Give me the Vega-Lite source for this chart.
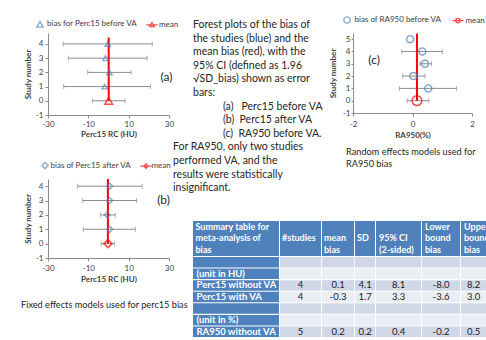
{
  "$schema": "https://vega.github.io/schema/vega-lite/v6.json",
  "background": "white",
  "padding": {"left": 21, "top": 16, "right": 0, "bottom": 0},
  "bounds": "flush",
  "align": "each",
  "spacing": 145,
  "config": {
    "font": "Lato",
    "locale": {"number": {"decimal": ".", "thousands": ",", "grouping": [3], "currency": ["$", ""], "minus": "-"}},
    "view": {"stroke": null},
    "axis": {"grid": false, "domainColor": "#8c8c8c", "tickColor": "#8c8c8c", "labelFont": "Lato", "labelFontSize": 8, "labelColor": "#404040", "titleFont": "Lato", "titleFontSize": 8, "titleFontWeight": "bold", "titleColor": "#404040", "tickSize": 3, "labelFlush": false, "labelOverlap": false},
    "axisY": {"labelOverlap": false},
    "axisQuantitative": {"labelOverlap": false},
    "legend": {"labelFont": "Lato", "labelFontSize": 8, "labelColor": "#404040"},
    "title": {"font": "Lato", "fontSize": 9.2, "fontWeight": "normal", "color": "#262626"}
  },
  "datasets": {
    "pa": [
      {"study": 4, "est": -0.4, "lo": -22.5, "hi": 21.7, "series": "bias for Perc15 before VA"},
      {"study": 3, "est": -1.5, "lo": -19.9, "hi": 19.1, "series": "bias for Perc15 before VA"},
      {"study": 2, "est": 0.45, "lo": -10.3, "hi": 11.2, "series": "bias for Perc15 before VA"},
      {"study": 1, "est": -1.9, "lo": -22.2, "hi": 20.8, "series": "bias for Perc15 before VA"},
      {"study": 0, "est": 0.1, "lo": -8.0, "hi": 8.2, "series": "mean"}
    ],
    "pb": [
      {"study": 4, "est": 0.6, "lo": -15.3, "hi": 16.7, "series": "bias of Perc15 after VA"},
      {"study": 3, "est": 0.6, "lo": -12.8, "hi": 13.9, "series": "bias of Perc15 after VA"},
      {"study": 2, "est": -0.6, "lo": -3.9, "hi": 3.4, "series": "bias of Perc15 after VA"},
      {"study": 1, "est": 0.6, "lo": -12.5, "hi": 13.3, "series": "bias of Perc15 after VA"},
      {"study": 0, "est": -0.3, "lo": -3.6, "hi": 3.0, "series": "mean"}
    ],
    "pc": [
      {"study": 5, "est": -0.08, "lo": null, "hi": null, "series": "bias of RA950 before VA"},
      {"study": 4, "est": 0.33, "lo": -0.36, "hi": 1.0, "series": "bias of RA950 before VA"},
      {"study": 3, "est": 0.42, "lo": 0.25, "hi": 0.64, "series": "bias of RA950 before VA"},
      {"study": 2, "est": 0.03, "lo": -0.33, "hi": 0.42, "series": "bias of RA950 before VA"},
      {"study": 1, "est": 0.53, "lo": -0.44, "hi": 1.48, "series": "bias of RA950 before VA"},
      {"study": 0, "est": 0.15, "lo": -0.18, "hi": 0.55, "series": "mean"}
    ],
    "para": [
      {"part": "main", "text": "Forest plots of the bias of\nthe studies (blue) and the\nmean bias (red), with the\n95% CI (defined as 1.96\n√SD_bias) shown as error\nbars:"},
      {"part": "sub", "text": "(a)\u00a0\u00a0\u00a0Perc15 before VA\n(b)\u00a0\u00a0Perc15 after VA\n(c)\u00a0\u00a0RA950 before VA."},
      {"part": "end", "text": "For RA950, only two studies\nperformed VA, and the\nresults were statistically\ninsignificant."}
    ],
    "hdr": [
      {"col": 1, "text": "Summary table for\nmeta-analysis of\nbias"},
      {"col": 2, "text": "\u00a0\n\u00a0\n#studies"},
      {"col": 3, "text": "\u00a0\nmean\nbias"},
      {"col": 4, "text": "\u00a0\n\u00a0\nSD"},
      {"col": 5, "text": "\u00a0\n95% CI\n(2-sided)"},
      {"col": 6, "text": "Lower\nbound\nbias"},
      {"col": 7, "text": "Upper\nbound\nbias"}
    ],
    "tbl": [
      {"row": 1, "label": "", "studies": null, "mean": null, "sd": null, "ci": null, "lower": null, "upper": null},
      {"row": 2, "label": "(unit in HU)", "studies": null, "mean": null, "sd": null, "ci": null, "lower": null, "upper": null},
      {"row": 3, "label": "Perc15 without VA", "studies": 4, "mean": 0.1, "sd": 4.1, "ci": 8.1, "lower": -8.0, "upper": 8.2},
      {"row": 4, "label": "Perc15 with VA", "studies": 4, "mean": -0.3, "sd": 1.7, "ci": 3.3, "lower": -3.6, "upper": 3.0},
      {"row": 5, "label": "", "studies": null, "mean": null, "sd": null, "ci": null, "lower": null, "upper": null},
      {"row": 6, "label": "(unit in %)", "studies": null, "mean": null, "sd": null, "ci": null, "lower": null, "upper": null},
      {"row": 7, "label": "RA950 without VA", "studies": 5, "mean": 0.2, "sd": 0.2, "ci": 0.4, "lower": -0.2, "upper": 0.5}
    ]
  },
  "resolve": {"scale": {"x": "independent", "y": "independent", "color": "independent", "shape": "independent"}, "legend": {"color": "independent", "shape": "independent"}},
  "hconcat": [
    {
      "vconcat": [
        {
          "width": 121, "height": 82,
          "data": {"name": "pa"},
          "layer": [
            {"mark": {"type": "rule", "color": "#8c8c8c", "strokeWidth": 1},
             "encoding": {
               "x": {"field": "lo", "type": "quantitative", "scale": {"domain": [-30, 30], "nice": false, "zero": false}, "axis": {"values": [-30, -10, 10, 30], "title": "Perc15 RC (HU)", "labelPadding": 2, "titlePadding": 2, "labelOverlap": false}},
               "x2": {"field": "hi"},
               "y": {"field": "study", "type": "quantitative", "scale": {"domain": [-1, 4.77], "nice": false, "zero": false}, "axis": {"values": [-1, 0, 1, 2, 3, 4], "title": "Study number", "labelPadding": 2, "titlePadding": 3, "labelOverlap": false}}}},
            {"mark": {"type": "tick", "orient": "vertical", "color": "#8c8c8c", "size": 5, "thickness": 1},
             "encoding": {"x": {"field": "lo", "type": "quantitative", "axis": {"values": [-30, -10, 10, 30], "title": "Perc15 RC (HU)", "labelPadding": 2, "titlePadding": 2, "labelOverlap": false}}, "y": {"field": "study", "type": "quantitative", "axis": {"values": [-1, 0, 1, 2, 3, 4], "title": "Study number", "labelPadding": 2, "titlePadding": 3, "labelOverlap": false}}}},
            {"mark": {"type": "tick", "orient": "vertical", "color": "#8c8c8c", "size": 5, "thickness": 1},
             "encoding": {"x": {"field": "hi", "type": "quantitative", "axis": {"values": [-30, -10, 10, 30], "title": "Perc15 RC (HU)", "labelPadding": 2, "titlePadding": 2, "labelOverlap": false}}, "y": {"field": "study", "type": "quantitative", "axis": {"values": [-1, 0, 1, 2, 3, 4], "title": "Study number", "labelPadding": 2, "titlePadding": 3, "labelOverlap": false}}}},
            {"transform": [{"filter": "datum.series == 'mean'"}],
             "mark": {"type": "rule", "color": "#ff0000", "strokeWidth": 2},
             "encoding": {"x": {"field": "est", "type": "quantitative", "axis": {"values": [-30, -10, 10, 30], "title": "Perc15 RC (HU)", "labelPadding": 2, "titlePadding": 2, "labelOverlap": false}}, "y": {"datum": 0, "type": "quantitative", "axis": {"values": [-1, 0, 1, 2, 3, 4], "title": "Study number", "labelPadding": 2, "titlePadding": 3, "labelOverlap": false}}, "y2": {"datum": 4.45}}},
            {"transform": [{"filter": "datum.series != 'mean'"}],
             "mark": {"type": "point", "filled": false, "size": 30, "strokeWidth": 1.3},
             "encoding": {
               "x": {"field": "est", "type": "quantitative", "axis": {"values": [-30, -10, 10, 30], "title": "Perc15 RC (HU)", "labelPadding": 2, "titlePadding": 2, "labelOverlap": false}},
               "y": {"field": "study", "type": "quantitative", "axis": {"values": [-1, 0, 1, 2, 3, 4], "title": "Study number", "labelPadding": 2, "titlePadding": 3, "labelOverlap": false}},
               "color": {"field": "series", "type": "nominal", "scale": {"domain": ["bias for Perc15 before VA", "mean"], "range": ["#4F81BD", "#FF0000"]},
                 "legend": {"orient": "none", "legendX": -12, "legendY": -13, "direction": "horizontal", "title": null, "symbolSize": 40, "symbolStrokeWidth": 1.3, "labelOffset": 3, "columnPadding": 5}},
               "shape": {"field": "series", "type": "nominal", "scale": {"domain": ["bias for Perc15 before VA", "mean"], "range": ["triangle-up", "M-1.8,0H1.8M0,-0.75L0.75,0.55H-0.75Z"]},
                 "legend": {"orient": "none", "legendX": -12, "legendY": -13, "direction": "horizontal", "title": null, "symbolSize": 40, "symbolStrokeWidth": 1.3, "labelOffset": 3, "columnPadding": 5}}}},
            {"transform": [{"filter": "datum.series == 'mean'"}],
             "mark": {"type": "point", "filled": false, "shape": "triangle-up", "size": 60, "strokeWidth": 1.5},
             "encoding": {"x": {"field": "est", "type": "quantitative", "axis": {"values": [-30, -10, 10, 30], "title": "Perc15 RC (HU)", "labelPadding": 2, "titlePadding": 2, "labelOverlap": false}}, "y": {"field": "study", "type": "quantitative", "axis": {"values": [-1, 0, 1, 2, 3, 4], "title": "Study number", "labelPadding": 2, "titlePadding": 3, "labelOverlap": false}}, "color": {"field": "series", "type": "nominal"}}},
            {"data": {"values": [{"panel": "(a)"}]},
             "mark": {"type": "text", "fontSize": 12, "color": "#262626"},
             "encoding": {"x": {"datum": 28.7, "type": "quantitative", "axis": {"values": [-30, -10, 10, 30], "title": "Perc15 RC (HU)", "labelPadding": 2, "titlePadding": 2, "labelOverlap": false}}, "y": {"datum": 1.69, "type": "quantitative", "axis": {"values": [-1, 0, 1, 2, 3, 4], "title": "Study number", "labelPadding": 2, "titlePadding": 3, "labelOverlap": false}}, "text": {"field": "panel"}}}
          ]
        },
        {
          "width": 121, "height": 79,
          "data": {"name": "pb"},
          "title": {"text": "Fixed effects models used for perc15 bias", "orient": "bottom", "anchor": "start", "frame": "group", "dx": -27, "offset": 18, "fontSize": 9.2, "fontWeight": "normal", "color": "#262626"},
          "layer": [
            {"mark": {"type": "rule", "color": "#8c8c8c", "strokeWidth": 1},
             "encoding": {
               "x": {"field": "lo", "type": "quantitative", "scale": {"domain": [-30, 30], "nice": false, "zero": false}, "axis": {"values": [-30, -10, 10, 30], "title": "Perc15 RC (HU)", "labelPadding": 3, "titlePadding": 3, "labelOverlap": false}},
               "x2": {"field": "hi"},
               "y": {"field": "study", "type": "quantitative", "scale": {"domain": [-1, 4.5], "nice": false, "zero": false}, "axis": {"values": [-1, 0, 1, 2, 3, 4], "title": "Study number", "labelPadding": 2, "titlePadding": 3, "labelOverlap": false}}}},
            {"mark": {"type": "tick", "orient": "vertical", "color": "#8c8c8c", "size": 5, "thickness": 1},
             "encoding": {"x": {"field": "lo", "type": "quantitative", "axis": {"values": [-30, -10, 10, 30], "title": "Perc15 RC (HU)", "labelPadding": 3, "titlePadding": 3, "labelOverlap": false}}, "y": {"field": "study", "type": "quantitative", "axis": {"values": [-1, 0, 1, 2, 3, 4], "title": "Study number", "labelPadding": 2, "titlePadding": 3, "labelOverlap": false}}}},
            {"mark": {"type": "tick", "orient": "vertical", "color": "#8c8c8c", "size": 5, "thickness": 1},
             "encoding": {"x": {"field": "hi", "type": "quantitative", "axis": {"values": [-30, -10, 10, 30], "title": "Perc15 RC (HU)", "labelPadding": 3, "titlePadding": 3, "labelOverlap": false}}, "y": {"field": "study", "type": "quantitative", "axis": {"values": [-1, 0, 1, 2, 3, 4], "title": "Study number", "labelPadding": 2, "titlePadding": 3, "labelOverlap": false}}}},
            {"transform": [{"filter": "datum.series == 'mean'"}],
             "mark": {"type": "rule", "color": "#ff0000", "strokeWidth": 2},
             "encoding": {"x": {"field": "est", "type": "quantitative", "axis": {"values": [-30, -10, 10, 30], "title": "Perc15 RC (HU)", "labelPadding": 3, "titlePadding": 3, "labelOverlap": false}}, "y": {"datum": 0, "type": "quantitative", "axis": {"values": [-1, 0, 1, 2, 3, 4], "title": "Study number", "labelPadding": 2, "titlePadding": 3, "labelOverlap": false}}, "y2": {"datum": 4.5}}},
            {"transform": [{"filter": "datum.series != 'mean'"}],
             "mark": {"type": "point", "filled": false, "size": 36, "strokeWidth": 1.3},
             "encoding": {
               "x": {"field": "est", "type": "quantitative", "axis": {"values": [-30, -10, 10, 30], "title": "Perc15 RC (HU)", "labelPadding": 3, "titlePadding": 3, "labelOverlap": false}},
               "y": {"field": "study", "type": "quantitative", "axis": {"values": [-1, 0, 1, 2, 3, 4], "title": "Study number", "labelPadding": 2, "titlePadding": 3, "labelOverlap": false}},
               "color": {"field": "series", "type": "nominal", "scale": {"domain": ["bias of Perc15 after VA", "mean"], "range": ["#4F81BD", "#FF0000"]},
                 "legend": {"orient": "none", "legendX": -7, "legendY": -17.5, "direction": "horizontal", "title": null, "symbolSize": 40, "symbolStrokeWidth": 1.3, "labelOffset": 1.5, "columnPadding": 5}},
               "shape": {"field": "series", "type": "nominal", "scale": {"domain": ["bias of Perc15 after VA", "mean"], "range": ["diamond", "M-1.8,0H1.8M0,-0.7L0.7,0L0,0.7L-0.7,0Z"]},
                 "legend": {"orient": "none", "legendX": -7, "legendY": -17.5, "direction": "horizontal", "title": null, "symbolSize": 40, "symbolStrokeWidth": 1.3, "labelOffset": 1.5, "columnPadding": 5}}}},
            {"transform": [{"filter": "datum.series == 'mean'"}],
             "mark": {"type": "point", "filled": false, "shape": "diamond", "size": 64, "strokeWidth": 1.5},
             "encoding": {"x": {"field": "est", "type": "quantitative", "axis": {"values": [-30, -10, 10, 30], "title": "Perc15 RC (HU)", "labelPadding": 3, "titlePadding": 3, "labelOverlap": false}}, "y": {"field": "study", "type": "quantitative", "axis": {"values": [-1, 0, 1, 2, 3, 4], "title": "Study number", "labelPadding": 2, "titlePadding": 3, "labelOverlap": false}}, "color": {"field": "series", "type": "nominal"}}},
            {"data": {"values": [{"panel": "(b)"}]},
             "mark": {"type": "text", "fontSize": 12, "color": "#262626"},
             "encoding": {"x": {"datum": 27.3, "type": "quantitative", "axis": {"values": [-30, -10, 10, 30], "title": "Perc15 RC (HU)", "labelPadding": 3, "titlePadding": 3, "labelOverlap": false}}, "y": {"datum": 3.03, "type": "quantitative", "axis": {"values": [-1, 0, 1, 2, 3, 4], "title": "Study number", "labelPadding": 2, "titlePadding": 3, "labelOverlap": false}}, "text": {"field": "panel"}}}
          ]
        }
      ],
      "spacing": 64, "bounds": "flush", "align": "each",
      "resolve": {"scale": {"x": "independent", "y": "independent", "color": "independent", "shape": "independent"}, "legend": {"color": "independent", "shape": "independent"}}
    },
    {
      "vconcat": [
        {
          "hconcat": [
            {
              "width": 150, "height": 80,
              "data": {"name": "para"},
              "layer": [
                {"transform": [{"filter": "datum.part == 'main'"}],
                 "mark": {"type": "text", "align": "left", "baseline": "middle", "lineBreak": "\n", "lineHeight": 13.6, "fontSize": 10.5, "dx": -75, "dy": -48, "color": "#262626"},
                 "encoding": {"text": {"field": "text"}}},
                {"transform": [{"filter": "datum.part == 'sub'"}],
                 "mark": {"type": "text", "align": "left", "baseline": "middle", "lineBreak": "\n", "lineHeight": 13.6, "fontSize": 10.5, "dx": -45, "dy": 33.6, "color": "#262626"},
                 "encoding": {"text": {"field": "text"}}},
                {"transform": [{"filter": "datum.part == 'end'"}],
                 "mark": {"type": "text", "align": "left", "baseline": "middle", "lineBreak": "\n", "lineHeight": 13.6, "fontSize": 10.5, "dx": -95, "dy": 74.4, "color": "#262626"},
                 "encoding": {"text": {"field": "text"}}}
              ]
            },
            {
              "width": 119, "height": 80,
              "data": {"name": "pc"},
              "title": {"text": ["Random effects models used for", "RA950 bias"], "orient": "bottom", "anchor": "start", "frame": "group", "dx": -7, "offset": 9, "fontSize": 9.2, "lineHeight": 12.3, "fontWeight": "normal", "color": "#262626"},
              "layer": [
                {"mark": {"type": "rule", "color": "#8c8c8c", "strokeWidth": 1},
                 "encoding": {
                   "x": {"field": "lo", "type": "quantitative", "scale": {"domain": [-2, 2], "nice": false, "zero": false}, "axis": {"values": [-2, 0, 2], "title": "RA950(%)", "labelPadding": 4, "titlePadding": 3, "labelOverlap": false}},
                   "x2": {"field": "hi"},
                   "y": {"field": "study", "type": "quantitative", "scale": {"domain": [-1, 5.5], "nice": false, "zero": false}, "axis": {"values": [-1, 0, 1, 2, 3, 4, 5], "title": "Study number", "tickSize": 2, "labelPadding": 1, "titlePadding": 5, "labelOverlap": false}}}},
                {"mark": {"type": "tick", "orient": "vertical", "color": "#8c8c8c", "size": 5, "thickness": 1},
                 "encoding": {"x": {"field": "lo", "type": "quantitative", "axis": {"values": [-2, 0, 2], "title": "RA950(%)", "labelPadding": 4, "titlePadding": 3, "labelOverlap": false}}, "y": {"field": "study", "type": "quantitative", "axis": {"values": [-1, 0, 1, 2, 3, 4, 5], "title": "Study number", "tickSize": 2, "labelPadding": 1, "titlePadding": 5, "labelOverlap": false}}}},
                {"mark": {"type": "tick", "orient": "vertical", "color": "#8c8c8c", "size": 5, "thickness": 1},
                 "encoding": {"x": {"field": "hi", "type": "quantitative", "axis": {"values": [-2, 0, 2], "title": "RA950(%)", "labelPadding": 4, "titlePadding": 3, "labelOverlap": false}}, "y": {"field": "study", "type": "quantitative", "axis": {"values": [-1, 0, 1, 2, 3, 4, 5], "title": "Study number", "tickSize": 2, "labelPadding": 1, "titlePadding": 5, "labelOverlap": false}}}},
                {"transform": [{"filter": "datum.series == 'mean'"}],
                 "mark": {"type": "rule", "color": "#ff0000", "strokeWidth": 2},
                 "encoding": {"x": {"field": "est", "type": "quantitative", "axis": {"values": [-2, 0, 2], "title": "RA950(%)", "labelPadding": 4, "titlePadding": 3, "labelOverlap": false}}, "y": {"datum": 0, "type": "quantitative", "axis": {"values": [-1, 0, 1, 2, 3, 4, 5], "title": "Study number", "tickSize": 2, "labelPadding": 1, "titlePadding": 5, "labelOverlap": false}}, "y2": {"datum": 5.45}}},
                {"transform": [{"filter": "datum.series != 'mean'"}],
                 "mark": {"type": "point", "filled": false, "size": 50, "strokeWidth": 1.4},
                 "encoding": {
                   "x": {"field": "est", "type": "quantitative", "axis": {"values": [-2, 0, 2], "title": "RA950(%)", "labelPadding": 4, "titlePadding": 3, "labelOverlap": false}},
                   "y": {"field": "study", "type": "quantitative", "axis": {"values": [-1, 0, 1, 2, 3, 4, 5], "title": "Study number", "tickSize": 2, "labelPadding": 1, "titlePadding": 5, "labelOverlap": false}},
                   "color": {"field": "series", "type": "nominal", "scale": {"domain": ["bias of RA950 before VA", "mean"], "range": ["#4F81BD", "#FF0000"]},
                     "legend": {"orient": "none", "legendX": -10, "legendY": -17, "direction": "horizontal", "title": null, "symbolSize": 40, "symbolStrokeWidth": 1.3, "labelOffset": 3.5, "columnPadding": 7}},
                   "shape": {"field": "series", "type": "nominal", "scale": {"domain": ["bias of RA950 before VA", "mean"], "range": ["circle", "M-1.8,0H1.8M0.7,0A0.7,0.7,0,1,1,-0.7,0A0.7,0.7,0,1,1,0.7,0Z"]},
                     "legend": {"orient": "none", "legendX": -10, "legendY": -17, "direction": "horizontal", "title": null, "symbolSize": 40, "symbolStrokeWidth": 1.3, "labelOffset": 3.5, "columnPadding": 7}}}},
                {"transform": [{"filter": "datum.series == 'mean'"}],
                 "mark": {"type": "point", "filled": false, "shape": "circle", "size": 95, "strokeWidth": 1.5},
                 "encoding": {"x": {"field": "est", "type": "quantitative", "axis": {"values": [-2, 0, 2], "title": "RA950(%)", "labelPadding": 4, "titlePadding": 3, "labelOverlap": false}}, "y": {"field": "study", "type": "quantitative", "axis": {"values": [-1, 0, 1, 2, 3, 4, 5], "title": "Study number", "tickSize": 2, "labelPadding": 1, "titlePadding": 5, "labelOverlap": false}}, "color": {"field": "series", "type": "nominal"}}},
                {"data": {"values": [{"panel": "(c)"}]},
                 "mark": {"type": "text", "fontSize": 12, "color": "#262626"},
                 "encoding": {"x": {"datum": -1.29, "type": "quantitative", "axis": {"values": [-2, 0, 2], "title": "RA950(%)", "labelPadding": 4, "titlePadding": 3, "labelOverlap": false}}, "y": {"datum": 3.29, "type": "quantitative", "axis": {"values": [-1, 0, 1, 2, 3, 4, 5], "title": "Study number", "tickSize": 2, "labelPadding": 1, "titlePadding": 5, "labelOverlap": false}}, "text": {"field": "panel"}}}
              ]
            }
          ],
          "spacing": 10, "bounds": "flush", "align": "each",
          "resolve": {"scale": {"x": "independent", "y": "independent", "color": "independent", "shape": "independent"}, "legend": {"color": "independent", "shape": "independent"}}
        },
        {
          "vconcat": [
            {
              "hconcat": [
                {"width": 86, "height": 35, "view": {"fill": "#4F81BD"}, "data": {"name": "hdr"}, "transform": [{"filter": "datum.col == 1"}],
                 "mark": {"type": "text", "align": "left", "baseline": "middle", "lineBreak": "\n", "lineHeight": 11.7, "fontSize": 9, "fontWeight": "bold", "color": "white", "dx": -40.5, "dy": -11.8}, "encoding": {"text": {"field": "text"}}},
                {"width": 41, "height": 35, "view": {"fill": "#4F81BD"}, "data": {"name": "hdr"}, "transform": [{"filter": "datum.col == 2"}],
                 "mark": {"type": "text", "align": "left", "baseline": "middle", "lineBreak": "\n", "lineHeight": 11.7, "fontSize": 9, "fontWeight": "bold", "color": "white", "dx": -18.5, "dy": -11.8}, "encoding": {"text": {"field": "text"}}},
                {"width": 32, "height": 35, "view": {"fill": "#4F81BD"}, "data": {"name": "hdr"}, "transform": [{"filter": "datum.col == 3"}],
                 "mark": {"type": "text", "align": "left", "baseline": "middle", "lineBreak": "\n", "lineHeight": 11.7, "fontSize": 9, "fontWeight": "bold", "color": "white", "dx": -14, "dy": -11.8}, "encoding": {"text": {"field": "text"}}},
                {"width": 20, "height": 35, "view": {"fill": "#4F81BD"}, "data": {"name": "hdr"}, "transform": [{"filter": "datum.col == 4"}],
                 "mark": {"type": "text", "align": "left", "baseline": "middle", "lineBreak": "\n", "lineHeight": 11.7, "fontSize": 9, "fontWeight": "bold", "color": "white", "dx": -8, "dy": -11.8}, "encoding": {"text": {"field": "text"}}},
                {"width": 45, "height": 35, "view": {"fill": "#4F81BD"}, "data": {"name": "hdr"}, "transform": [{"filter": "datum.col == 5"}],
                 "mark": {"type": "text", "align": "left", "baseline": "middle", "lineBreak": "\n", "lineHeight": 11.7, "fontSize": 9, "fontWeight": "bold", "color": "white", "dx": -19.5, "dy": -11.8}, "encoding": {"text": {"field": "text"}}},
                {"width": 38, "height": 35, "view": {"fill": "#4F81BD"}, "data": {"name": "hdr"}, "transform": [{"filter": "datum.col == 6"}],
                 "mark": {"type": "text", "align": "left", "baseline": "middle", "lineBreak": "\n", "lineHeight": 11.7, "fontSize": 9, "fontWeight": "bold", "color": "white", "dx": -16, "dy": -11.8}, "encoding": {"text": {"field": "text"}}},
                {"width": 25, "height": 35, "view": {"fill": "#4F81BD"}, "data": {"name": "hdr"}, "transform": [{"filter": "datum.col == 7"}],
                 "mark": {"type": "text", "align": "left", "baseline": "middle", "lineBreak": "\n", "lineHeight": 11.7, "fontSize": 9, "fontWeight": "bold", "color": "white", "dx": -9.5, "dy": -11.8, "clip": true}, "encoding": {"text": {"field": "text"}}}
              ],
              "spacing": 1, "bounds": "flush", "align": "each"
            },
            {
              "hconcat": [
                {"width": 86, "height": 80, "data": {"name": "tbl"},
                 "layer": [
                   {"mark": {"type": "rect", "color": "#4F81BD"}, "encoding": {"y": {"field": "row", "type": "ordinal", "axis": null, "scale": {"paddingInner": 0.09, "paddingOuter": 0}}}},
                   {"mark": {"type": "text", "align": "left", "fontSize": 9.5, "fontWeight": "bold", "color": "white", "dx": -39.5},
                    "encoding": {"y": {"field": "row", "type": "ordinal", "axis": null}, "text": {"field": "label"}}}
                 ]},
                {"width": 41, "height": 80, "data": {"name": "tbl"},
                 "layer": [
                   {"mark": {"type": "rect"}, "encoding": {"y": {"field": "row", "type": "ordinal", "axis": null, "scale": {"paddingInner": 0.09, "paddingOuter": 0}}, "fill": {"condition": {"test": "datum.row % 2 == 1", "value": "#D0D8E8"}, "value": "#E9EDF4"}}},
                   {"transform": [{"filter": "isValid(datum.studies)"}], "mark": {"type": "text", "fontSize": 9.5, "color": "#1a1a1a"},
                    "encoding": {"y": {"field": "row", "type": "ordinal", "axis": null}, "text": {"field": "studies", "type": "quantitative", "format": "d"}}}
                 ]},
                {"width": 32, "height": 80, "data": {"name": "tbl"},
                 "layer": [
                   {"mark": {"type": "rect"}, "encoding": {"y": {"field": "row", "type": "ordinal", "axis": null, "scale": {"paddingInner": 0.09, "paddingOuter": 0}}, "fill": {"condition": {"test": "datum.row % 2 == 1", "value": "#D0D8E8"}, "value": "#E9EDF4"}}},
                   {"transform": [{"filter": "isValid(datum.mean)"}], "mark": {"type": "text", "fontSize": 9.5, "color": "#1a1a1a"},
                    "encoding": {"y": {"field": "row", "type": "ordinal", "axis": null}, "text": {"field": "mean", "type": "quantitative", "format": ".1f"}}}
                 ]},
                {"width": 20, "height": 80, "data": {"name": "tbl"},
                 "layer": [
                   {"mark": {"type": "rect"}, "encoding": {"y": {"field": "row", "type": "ordinal", "axis": null, "scale": {"paddingInner": 0.09, "paddingOuter": 0}}, "fill": {"condition": {"test": "datum.row % 2 == 1", "value": "#D0D8E8"}, "value": "#E9EDF4"}}},
                   {"transform": [{"filter": "isValid(datum.sd)"}], "mark": {"type": "text", "fontSize": 9.5, "color": "#1a1a1a"},
                    "encoding": {"y": {"field": "row", "type": "ordinal", "axis": null}, "text": {"field": "sd", "type": "quantitative", "format": ".1f"}}}
                 ]},
                {"width": 45, "height": 80, "data": {"name": "tbl"},
                 "layer": [
                   {"mark": {"type": "rect"}, "encoding": {"y": {"field": "row", "type": "ordinal", "axis": null, "scale": {"paddingInner": 0.09, "paddingOuter": 0}}, "fill": {"condition": {"test": "datum.row % 2 == 1", "value": "#D0D8E8"}, "value": "#E9EDF4"}}},
                   {"transform": [{"filter": "isValid(datum.ci)"}], "mark": {"type": "text", "fontSize": 9.5, "color": "#1a1a1a"},
                    "encoding": {"y": {"field": "row", "type": "ordinal", "axis": null}, "text": {"field": "ci", "type": "quantitative", "format": ".1f"}}}
                 ]},
                {"width": 38, "height": 80, "data": {"name": "tbl"},
                 "layer": [
                   {"mark": {"type": "rect"}, "encoding": {"y": {"field": "row", "type": "ordinal", "axis": null, "scale": {"paddingInner": 0.09, "paddingOuter": 0}}, "fill": {"condition": {"test": "datum.row % 2 == 1", "value": "#D0D8E8"}, "value": "#E9EDF4"}}},
                   {"transform": [{"filter": "isValid(datum.lower)"}], "mark": {"type": "text", "fontSize": 9.5, "color": "#1a1a1a"},
                    "encoding": {"y": {"field": "row", "type": "ordinal", "axis": null}, "text": {"field": "lower", "type": "quantitative", "format": ".1f"}}}
                 ]},
                {"width": 25, "height": 80, "data": {"name": "tbl"},
                 "layer": [
                   {"mark": {"type": "rect"}, "encoding": {"y": {"field": "row", "type": "ordinal", "axis": null, "scale": {"paddingInner": 0.09, "paddingOuter": 0}}, "fill": {"condition": {"test": "datum.row % 2 == 1", "value": "#D0D8E8"}, "value": "#E9EDF4"}}},
                   {"transform": [{"filter": "isValid(datum.upper)"}], "mark": {"type": "text", "fontSize": 9.5, "color": "#1a1a1a", "clip": true},
                    "encoding": {"y": {"field": "row", "type": "ordinal", "axis": null}, "text": {"field": "upper", "type": "quantitative", "format": ".1f"}}}
                 ]}
              ],
              "spacing": 1, "bounds": "flush", "align": "each"
            }
          ],
          "spacing": 36, "bounds": "flush", "align": "each"
        }
      ],
      "spacing": 188, "bounds": "flush", "align": "each",
      "resolve": {"scale": {"x": "independent", "y": "independent", "color": "independent", "shape": "independent"}, "legend": {"color": "independent", "shape": "independent"}}
    }
  ]
}
